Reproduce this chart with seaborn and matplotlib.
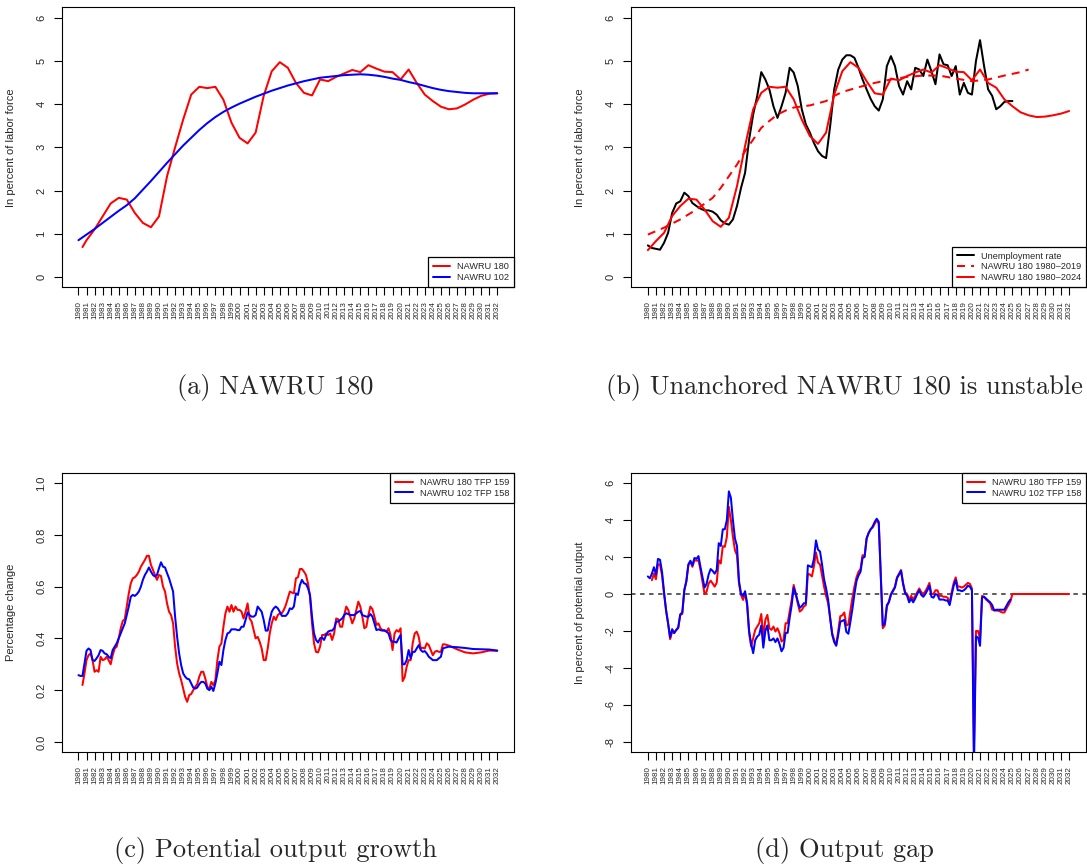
import numpy as np
import matplotlib
matplotlib.use("Agg")
import matplotlib.pyplot as plt
import seaborn as sns

# ---- data ----
years = list(range(1980, 2033))
year_labels = [str(y) for y in years]
tail_years = list(range(2026, 2033))

# (a) NAWRU 180 vs NAWRU 102, annual
a_red_x = [1980.5] + list(range(1981, 2033))
a_red = [0.69, 0.85, 1.10, 1.40, 1.70, 1.83, 1.79, 1.48, 1.25, 1.15,
         1.40, 2.33, 3.00, 3.64, 4.22, 4.40, 4.37, 4.40, 4.10, 3.57,
         3.22, 3.09, 3.34, 4.19, 4.76, 4.97, 4.84, 4.49, 4.26, 4.20,
         4.57, 4.53, 4.63, 4.71, 4.79, 4.74, 4.90, 4.82, 4.75, 4.74,
         4.57, 4.80, 4.49, 4.22, 4.07, 3.94, 3.88, 3.90, 3.99, 4.10,
         4.19, 4.24, 4.25]
a_blue = [0.85, 0.98, 1.11, 1.25, 1.39, 1.53, 1.66, 1.82, 2.02, 2.22,
          2.43, 2.64, 2.84, 3.04, 3.22, 3.40, 3.56, 3.70, 3.82, 3.92,
          4.01, 4.09, 4.17, 4.24, 4.31, 4.37, 4.43, 4.48, 4.53, 4.57,
          4.61, 4.63, 4.65, 4.67, 4.68, 4.69, 4.68, 4.66, 4.63, 4.59,
          4.56, 4.51, 4.47, 4.42, 4.37, 4.33, 4.30, 4.28, 4.26, 4.25,
          4.25, 4.25, 4.25]

# (b) unemployment rate (half-yearly from 1980.0) and two NAWRU vintages
b_unemp = [0.73, 0.67, 0.65, 0.63, 0.79, 1.02, 1.48, 1.70, 1.75, 1.95,
           1.87, 1.71, 1.64, 1.58, 1.54, 1.54, 1.51, 1.44, 1.31, 1.24,
           1.21, 1.33, 1.64, 2.06, 2.41, 3.18, 3.76, 4.19, 4.74, 4.57,
           4.34, 3.95, 3.68, 3.95, 4.26, 4.84, 4.73, 4.42, 3.88, 3.53,
           3.34, 3.10, 2.91, 2.80, 2.75, 3.49, 4.34, 4.80, 5.03, 5.13,
           5.13, 5.07, 4.84, 4.57, 4.34, 4.12, 3.95, 3.85, 4.11, 4.88,
           5.11, 4.88, 4.42, 4.22, 4.53, 4.34, 4.84, 4.80, 4.65, 5.03,
           4.76, 4.46, 5.15, 4.92, 4.90, 4.65, 4.88, 4.22, 4.49, 4.26,
           4.22, 5.00, 5.48, 4.88, 4.34, 4.19, 3.88, 3.95, 4.05, 4.07,
           4.07]
b_dash_x = [1980, 1982, 1984, 1986, 1988, 1989, 1990, 1991, 1992, 1993,
            1994, 1995, 1996, 1997, 1998, 2000, 2002, 2003, 2004, 2006,
            2008, 2010, 2012, 2014, 2016, 2018, 2020, 2022, 2024, 2026,
            2027]
b_dash = [0.98, 1.14, 1.33, 1.56, 1.83, 2.06, 2.33, 2.60, 2.91, 3.18,
          3.45, 3.61, 3.76, 3.85, 3.92, 3.97, 4.07, 4.19, 4.28, 4.39,
          4.49, 4.57, 4.63, 4.66, 4.66, 4.59, 4.53, 4.57, 4.66, 4.74,
          4.80]
b_red = [0.62, 0.83, 1.02, 1.41, 1.64, 1.81, 1.79, 1.56, 1.29, 1.16,
         1.37, 2.10, 3.03, 3.88, 4.26, 4.40, 4.38, 4.40, 4.11, 3.64,
         3.26, 3.08, 3.34, 4.22, 4.76, 4.97, 4.84, 4.53, 4.25, 4.22,
         4.59, 4.55, 4.65, 4.73, 4.80, 4.73, 4.90, 4.83, 4.75, 4.74,
         4.55, 4.80, 4.49, 4.38, 4.11, 3.95, 3.81, 3.74, 3.70, 3.71,
         3.74, 3.78, 3.84]

# (c) potential output growth, quarterly, then annual tail
c_red = [0.220, 0.265,
         0.316, 0.335, 0.342, 0.316, 0.271, 0.277, 0.271, 0.329,
         0.316, 0.319, 0.329, 0.316, 0.300, 0.335, 0.361, 0.368,
         0.400, 0.439, 0.467, 0.474, 0.523, 0.574, 0.613, 0.632,
         0.636, 0.645, 0.658, 0.677, 0.690, 0.703, 0.719, 0.719,
         0.684, 0.665, 0.645, 0.626, 0.645, 0.641, 0.600, 0.581,
         0.535, 0.503, 0.490, 0.458, 0.368, 0.303, 0.265, 0.239,
         0.206, 0.174, 0.155, 0.181, 0.185, 0.200, 0.213, 0.223,
         0.252, 0.271, 0.271, 0.245, 0.213, 0.206, 0.232, 0.219,
         0.239, 0.316, 0.368, 0.381, 0.445, 0.497, 0.523, 0.503,
         0.529, 0.503, 0.523, 0.510, 0.510, 0.503, 0.477, 0.503,
         0.535, 0.477, 0.465, 0.432, 0.400, 0.406, 0.387, 0.361,
         0.316, 0.316, 0.361, 0.419, 0.458, 0.484, 0.471, 0.490,
         0.497, 0.497, 0.510, 0.529, 0.555, 0.581, 0.577, 0.574,
         0.632, 0.636, 0.668, 0.668, 0.658, 0.645, 0.613, 0.561,
         0.458, 0.381, 0.348, 0.346, 0.368, 0.413, 0.413, 0.419,
         0.413, 0.419, 0.394, 0.419, 0.477, 0.474, 0.445, 0.445,
         0.490, 0.523, 0.510, 0.484, 0.458, 0.477, 0.510, 0.542,
         0.523, 0.484, 0.439, 0.445, 0.490, 0.523, 0.513, 0.484,
         0.452, 0.458, 0.439, 0.432, 0.432, 0.426, 0.439, 0.413,
         0.355, 0.419, 0.432, 0.426, 0.439, 0.235, 0.250, 0.290,
         0.316, 0.316, 0.381, 0.419, 0.426, 0.406, 0.361, 0.364,
         0.361, 0.381, 0.374, 0.355, 0.335, 0.348, 0.352, 0.348,
         0.348, 0.377, 0.377]
c_red_tail = [0.372, 0.358, 0.346, 0.342, 0.346, 0.353, 0.352]
c_blue = [0.258, 0.255, 0.255, 0.303, 0.352, 0.361, 0.355, 0.316,
          0.313, 0.323, 0.335, 0.355, 0.352, 0.342, 0.339, 0.329,
          0.323, 0.355, 0.368, 0.381, 0.400, 0.419, 0.439, 0.458,
          0.490, 0.523, 0.561, 0.568, 0.564, 0.571, 0.581, 0.600,
          0.626, 0.645, 0.658, 0.674, 0.658, 0.645, 0.639, 0.645,
          0.671, 0.694, 0.677, 0.674, 0.652, 0.632, 0.606, 0.581,
          0.484, 0.406, 0.342, 0.297, 0.265, 0.252, 0.244, 0.242,
          0.226, 0.210, 0.206, 0.210, 0.223, 0.232, 0.232, 0.226,
          0.206, 0.200, 0.213, 0.197, 0.226, 0.265, 0.310, 0.297,
          0.355, 0.394, 0.419, 0.423, 0.435, 0.435, 0.435, 0.432,
          0.432, 0.445, 0.445, 0.471, 0.500, 0.490, 0.484, 0.484,
          0.490, 0.523, 0.513, 0.503, 0.471, 0.430, 0.430, 0.471,
          0.503, 0.516, 0.523, 0.516, 0.503, 0.487, 0.487, 0.487,
          0.497, 0.516, 0.513, 0.523, 0.574, 0.568, 0.606, 0.626,
          0.613, 0.610, 0.594, 0.568, 0.484, 0.419, 0.394, 0.384,
          0.400, 0.403, 0.394, 0.413, 0.426, 0.430, 0.430, 0.439,
          0.465, 0.465, 0.471, 0.477, 0.490, 0.497, 0.494, 0.490,
          0.490, 0.490, 0.497, 0.503, 0.506, 0.490, 0.487, 0.484,
          0.484, 0.494, 0.484, 0.458, 0.432, 0.435, 0.432, 0.430,
          0.430, 0.426, 0.419, 0.394, 0.387, 0.387, 0.384, 0.400,
          0.413, 0.300, 0.300, 0.316, 0.355, 0.323, 0.348, 0.348,
          0.361, 0.374, 0.355, 0.348, 0.351, 0.342, 0.329, 0.323,
          0.316, 0.316, 0.316, 0.323, 0.329, 0.361, 0.364]
c_blue_tail = [0.368, 0.366, 0.363, 0.359, 0.358, 0.357, 0.353]

# (d) output gap, quarterly
d_red = [0.75, 1.10,
         0.80, 1.60, 1.60, 1.00, 0.00, -0.86, -1.58, -2.44,
         -2.03, -2.12, -1.94, -1.85, -1.13, -1.08, 0.22, 0.66,
         1.56, 1.74, 1.47, 1.83, 1.80, 1.83, 1.29, 0.66,
         0.00, 0.13, 0.57, 0.72, 0.57, 0.40, 0.61, 1.83,
         1.65, 2.59, 2.55, 3.09, 4.71, 3.99, 3.09, 2.37,
         2.10, 0.57, -0.05, -0.32, 0.04, -0.59, -2.12, -2.84,
         -2.39, -1.94, -1.76, -1.58, -1.08, -2.30, -1.40, -1.13,
         -1.85, -1.94, -1.76, -2.03, -1.85, -2.12, -2.57, -2.48,
         -1.58, -1.58, -0.95, -0.32, 0.49, 0.04, -0.50, -0.95,
         -0.86, -0.68, -0.60, 1.10, 1.05, 0.95, 1.50, 2.25,
         1.70, 1.60, 1.00, 0.40, -0.10, -0.50, -1.30, -2.10,
         -2.50, -2.75, -2.00, -1.20, -1.15, -1.00, -1.70, -1.65,
         -0.90, -0.20, 0.40, 0.90, 1.20, 1.35, 2.10, 2.05,
         3.00, 3.30, 3.50, 3.60, 3.80, 4.00, 3.80, 1.00,
         -1.85, -1.70, -0.70, -0.40, 0.00, 0.20, 0.40, 0.90,
         1.10, 1.30, 0.60, 0.10, 0.00, -0.30, -0.10, -0.30,
         -0.10, 0.10, 0.30, 0.10, 0.00, 0.15, 0.35, 0.60,
         0.00, 0.00, 0.20, 0.20, -0.10, -0.10, -0.15, -0.15,
         -0.20, -0.50, 0.10, 0.60, 0.90, 0.40, 0.40, 0.35,
         0.40, 0.50, 0.60, 0.55, 0.30, -8.30, -2.00, -2.00,
         -2.40, -0.10, -0.15, -0.30, -0.40, -0.50, -0.85, -0.85,
         -0.90, -0.90, -0.95, -1.00, -1.00, -0.80, -0.60, -0.40,
         0.00]
d_red_tail = [0.0, 0.0, 0.0, 0.0, 0.0, 0.0, 0.0]
d_blue = [0.95, 0.85, 1.10, 1.45, 1.05, 1.90, 1.85, 1.20,
          0.10, -0.90, -1.60, -2.35, -1.90, -2.10, -1.95, -1.80,
          -1.10, -1.00, 0.20, 0.70, 1.60, 1.80, 1.55, 1.95,
          1.90, 2.05, 1.45, 0.90, 0.35, 0.55, 1.05, 1.35,
          1.25, 1.10, 1.30, 2.75, 2.60, 3.50, 3.50, 4.00,
          5.55, 5.20, 4.00, 3.00, 2.60, 0.70, 0.00, -0.10,
          0.15, -0.50, -2.00, -2.70, -3.20, -2.50, -2.30, -2.20,
          -1.70, -2.90, -2.00, -1.70, -2.50, -2.50, -2.40, -2.60,
          -2.40, -2.70, -3.10, -2.90, -2.10, -2.10, -1.30, -0.60,
          0.35, 0.00, -0.40, -0.75, -0.65, -0.50, -0.50, 1.55,
          1.50, 1.45, 1.90, 2.90, 2.40, 2.30, 1.60, 0.80,
          0.30, -0.30, -1.30, -2.20, -2.60, -2.80, -2.20, -1.50,
          -1.45, -1.40, -2.05, -2.15, -1.50, -0.80, 0.00, 0.70,
          1.00, 1.20, 1.95, 2.00, 3.00, 3.30, 3.50, 3.65,
          3.90, 4.07, 3.90, 1.00, -1.70, -1.60, -0.60, -0.45,
          -0.05, 0.15, 0.35, 0.85, 1.05, 1.25, 0.55, 0.05,
          -0.10, -0.45, -0.25, -0.45, -0.25, 0.00, 0.20, -0.05,
          -0.15, 0.00, 0.20, 0.45, -0.15, -0.20, 0.00, -0.05,
          -0.30, -0.30, -0.30, -0.35, -0.35, -0.60, -0.05, 0.45,
          0.75, 0.20, 0.20, 0.15, 0.20, 0.30, 0.45, 0.40,
          0.20, -9.50, -2.30, -2.35, -2.80, -0.20, -0.15, -0.25,
          -0.35, -0.45, -0.60, -0.90, -0.85, -0.85, -0.85, -0.85,
          -0.85, -0.65, -0.45, -0.30]


def quarters(start, values):
    return start + 0.25 * np.arange(len(values))


# ---- style ----
sns.set_theme(style="ticks")
plt.rcParams['font.family'] = ['Liberation Sans', 'DejaVu Sans']
plt.rcParams['axes.unicode_minus'] = False

RED = "#FF0000"
BLUE = "#0000FF"
LW = 1.45

fig = plt.figure(figsize=(10.87, 8.68), dpi=100)
W, H = 1087.0, 868.0


def make_axes(left, top, right, bottom):
    return fig.add_axes([left / W, 1 - bottom / H, (right - left) / W, (bottom - top) / H])


def style(ax, ylim, yticks, ylabels, ylabel):
    ax.set_xlim(1980 - 2.08, 2032 + 2.08)
    ax.set_ylim(*ylim)
    ax.set_xticks(years)
    ax.set_xticklabels(year_labels, rotation=90, fontsize=5.8)
    ax.set_yticks(yticks)
    ax.set_yticklabels(ylabels, rotation=90, va="center", fontsize=8)
    ax.tick_params(axis="both", direction="out", length=5.5, width=0.8, color="black")
    ax.tick_params(axis="x", pad=4.5)
    ax.tick_params(axis="y", pad=5.5)
    for s in ax.spines.values():
        s.set_visible(True)
        s.set_linewidth(0.8)
        s.set_color("black")
    ax.set_xlabel("")
    ax.set_ylabel(ylabel, fontsize=8)
    ax.yaxis.set_label_coords(-0.102, 0.5)
    ax.grid(False)


def legend(ax, loc):
    handles, labels = ax.get_legend_handles_labels()
    leg = ax.legend(handles, labels, loc=loc, frameon=True, fancybox=False,
                    edgecolor="black", framealpha=1, borderaxespad=0,
                    fontsize=6.6, handlelength=1.9, handletextpad=0.75,
                    borderpad=0.55, labelspacing=0.2)
    leg.get_frame().set_linewidth(0.9)


# (a)
ax_a = make_axes(61.7, 7.3, 514, 287.3)
sns.lineplot(x=a_red_x, y=a_red, ax=ax_a, color=RED, linewidth=LW, label="NAWRU 180", errorbar=None)
sns.lineplot(x=years, y=a_blue, ax=ax_a, color=BLUE, linewidth=LW, label="NAWRU 102", errorbar=None)
style(ax_a, (-0.24, 6.24), range(0, 7), [str(v) for v in range(0, 7)], "In percent of labor force")
legend(ax_a, "lower right")

# (b)
ax_b = make_axes(631, 7.3, 1086, 287.3)
b_unemp_x = 1980 + 0.5 * np.arange(len(b_unemp))
sns.lineplot(x=b_unemp_x, y=b_unemp, ax=ax_b, color="black", linewidth=LW, label="Unemployment rate", errorbar=None)
sns.lineplot(x=b_dash_x, y=b_dash, ax=ax_b, color=RED, linewidth=LW, label="NAWRU 180 1980\u20132019", errorbar=None)
ax_b.lines[-1].set_linestyle((0, (4, 3)))
sns.lineplot(x=years, y=b_red, ax=ax_b, color=RED, linewidth=LW, label="NAWRU 180 1980\u20132024", errorbar=None)
style(ax_b, (-0.24, 6.24), range(0, 7), [str(v) for v in range(0, 7)], "In percent of labor force")
legend(ax_b, "lower right")

# (c)
ax_c = make_axes(61.7, 472.7, 514, 752.3)
c_red_x = np.concatenate([quarters(1980.5, c_red), tail_years])
c_blue_x = np.concatenate([quarters(1980.0, c_blue), tail_years])
sns.lineplot(x=c_red_x, y=c_red + c_red_tail, ax=ax_c, color=RED, linewidth=LW, label="NAWRU 180 TFP 159", errorbar=None)
sns.lineplot(x=c_blue_x, y=c_blue + c_blue_tail, ax=ax_c, color=BLUE, linewidth=LW, label="NAWRU 102 TFP 158", errorbar=None)
c_ticks = [0.0, 0.2, 0.4, 0.6, 0.8, 1.0]
style(ax_c, (-0.04, 1.04), c_ticks, ["%.1f" % v for v in c_ticks], "Percentage change")
legend(ax_c, "upper right")

# (d)
ax_d = make_axes(631, 472.7, 1086, 752.3)
ax_d.axhline(0, color="#505050", linestyle=(0, (2.5, 2.5)), linewidth=1.3, zorder=1)
d_red_x = np.concatenate([quarters(1980.5, d_red), tail_years])
d_blue_x = quarters(1980.0, d_blue)
sns.lineplot(x=d_red_x, y=d_red + d_red_tail, ax=ax_d, color=RED, linewidth=LW, label="NAWRU 180 TFP 159", errorbar=None)
sns.lineplot(x=d_blue_x, y=d_blue, ax=ax_d, color=BLUE, linewidth=LW, label="NAWRU 102 TFP 158", errorbar=None)
d_ticks = list(range(-8, 7, 2))
style(ax_d, (-8.56, 6.56), d_ticks, [str(v) for v in d_ticks], "In percent of potential output")
legend(ax_d, "upper right")

# captions
cap = dict(ha="center", va="baseline", fontsize=19, family="cmr10")
fig.text(275 / W, 1 - 394 / H, "(a) NAWRU 180", **cap)
fig.text(844 / W, 1 - 394 / H, "(b) Unanchored NAWRU 180 is unstable", **cap)
fig.text(275 / W, 1 - 856.5 / H, "(c) Potential output growth", **cap)
fig.text(844 / W, 1 - 856.5 / H, "(d) Output gap", **cap)

fig.savefig("out.png", dpi=100)
